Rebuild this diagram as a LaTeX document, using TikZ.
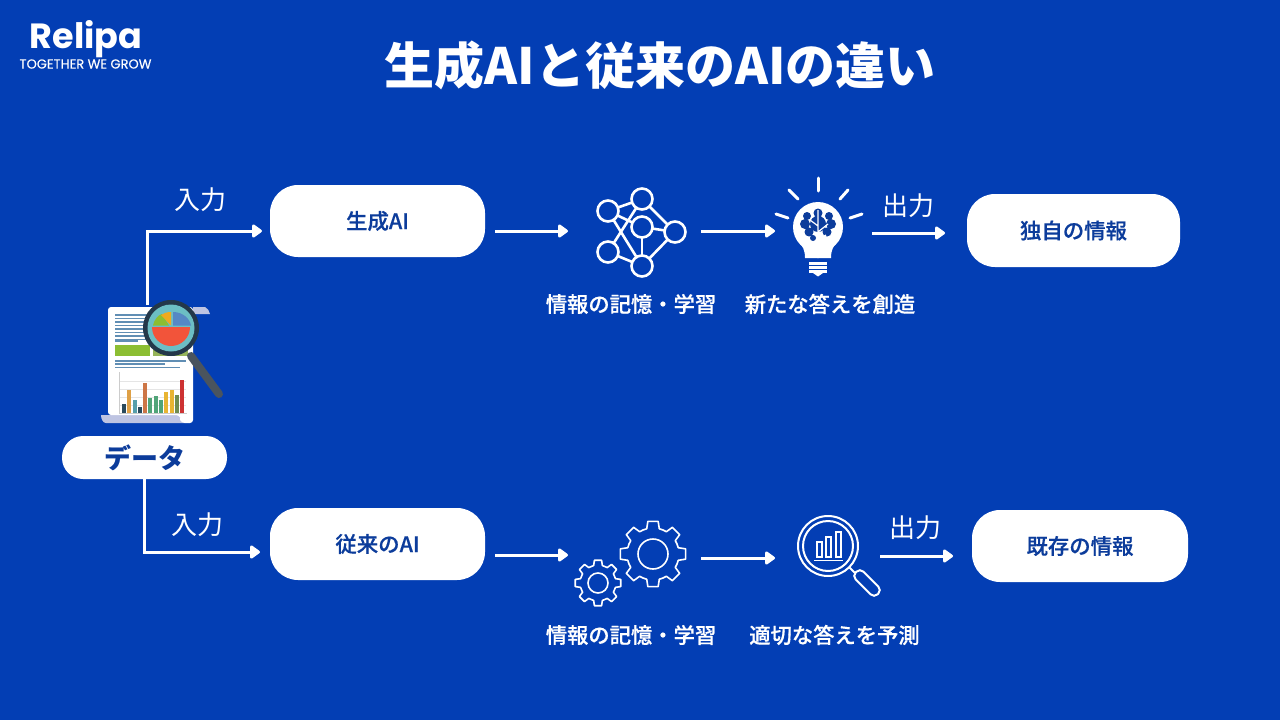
\documentclass[tikz,border=0pt]{standalone}
\usepackage{fontspec}
\setmainfont{Noto Sans CJK JP}
\newfontfamily\midfont[FakeBold=0.5]{Noto Sans CJK JP Medium}
\newfontfamily\logofont{Poppins}
\newfontfamily\sloganfont[FakeBold=0.3]{Poppins}
\usetikzlibrary{arrows.meta,positioning,calc}
\definecolor{bgblue}{RGB}{3,62,180}
\definecolor{N}{RGB}{12,60,155}
\definecolor{S}{RGB}{96,142,180}
\definecolor{C}{RGB}{190,196,226}
\definecolor{D}{RGB}{36,56,74}
\definecolor{H}{RGB}{74,84,94}
\definecolor{T}{RGB}{108,190,196}
\definecolor{P}{RGB}{242,84,58}
\definecolor{Q}{RGB}{86,136,196}
\definecolor{O}{RGB}{240,170,30}
\definecolor{E}{RGB}{140,190,50}
\definecolor{F}{RGB}{150,180,90}
\definecolor{Ba}{RGB}{42,74,92}
\definecolor{Bb}{RGB}{222,160,70}
\definecolor{Bc}{RGB}{86,158,170}
\definecolor{Bd}{RGB}{205,118,70}
\definecolor{Be}{RGB}{80,164,120}
\definecolor{Bf}{RGB}{232,180,50}
\definecolor{Bg}{RGB}{110,140,80}
\definecolor{Bh}{RGB}{205,50,50}
\tikzstyle{pill} = [draw=none,fill=white,text=N,font=\midfont\fontsize{21.4}{22}\selectfont,
minimum width=215pt,minimum height=72pt,rounded corners=28pt,inner sep=0pt]
\tikzstyle{caption} = [text=white,inner sep=0pt,font=\midfont\fontsize{21.3}{22}\selectfont]
\tikzstyle{flowlabel} = [text=white,inner sep=0pt,font=\fontsize{26}{26}\selectfont]
\tikzstyle{arrow} = [-{Triangle[length=11pt,width=15pt,round]},line width=3pt,white]
\tikzstyle{icon} = [white,line width=2.6pt,line cap=round]
\newcommand{\gearicon}[5]{
  \draw[white,line width=1.6pt,line join=round] ($(#1,#2)+(-9:#3)$)
    \foreach \a in {0,45,...,315} {
      -- ($(#1,#2)+(\a+9:#3)$) -- ($(#1,#2)+(\a+14:#4)$)
      arc[start angle=\a+14,end angle=\a+31,radius=#4] -- ($(#1,#2)+(\a+36:#3)$)
    } -- cycle;
  \draw[white,line width=1.6pt] (#1,#2) circle (#5);
}
\begin{document}
\begin{tikzpicture}[x=1pt,y=-1pt]
\fill[bgblue] (0,0) rectangle (1280,720);
% logo and title
\node[text=white,inner sep=0pt] (logo) at (86,39) {\logofont\bfseries\fontsize{35}{35}\selectfont Relipa};
\node[text=white,inner sep=0pt] (slogan) at (85.5,64) {\sloganfont\fontsize{13}{13}\selectfont TOGETHER WE GROW};
\node[text=white,inner sep=0pt,font=\bfseries\fontsize{50}{50}\selectfont] (title) at (660,65) {生成AIと従来のAIの違い};
% boxes
\node[pill] (gen) at (377.5,221) {生成AI};
\node[pill] (old) at (377.5,544) {従来のAI};
\node[pill,minimum width=213pt,minimum height=73pt] (own) at (1073.5,230.5) {独自の情報};
\node[pill,minimum width=216pt] (known) at (1080,546) {既存の情報};
\node[pill,minimum width=165pt,minimum height=43pt,rounded corners=21pt,font=\bfseries\fontsize{27}{27}\selectfont] (data) at (144.5,457.5) {データ};
% connectors
\coordinate (up) at (147,305);
\coordinate (upin) at (262,231);
\coordinate (downin) at (260,552);
\coordinate (A1) at (495,231);
\coordinate (A2) at (568,231);
\coordinate (A3) at (701,231);
\coordinate (A4) at (775,231);
\coordinate (A5) at (872,233);
\coordinate (A6) at (945,233);
\coordinate (B1) at (495,555);
\coordinate (B2) at (568,555);
\coordinate (B3) at (701,558);
\coordinate (B4) at (775,558);
\coordinate (B5) at (880,556);
\coordinate (B6) at (953,556);
\draw[arrow] (up) |- (upin);
\draw[arrow] (data.south -| 144,0) |- (downin);
\foreach \X/\Y in {A1/A2,A3/A4,A5/A6,B1/B2,B3/B4,B5/B6}
  \draw[arrow] (\X) -- (\Y);
\node[flowlabel] (in1) at (200.5,200) {入力};
\node[flowlabel] (in2) at (197.5,525) {入力};
\node[flowlabel] (out1) at (908,206) {出力};
\node[flowlabel] (out2) at (915,528) {出力};
\node[caption] (cap1) at (631,304) {情報の記憶・学習};
\node[caption] (cap2) at (830,304) {新たな答えを創造};
\node[caption] (cap3) at (631,635) {情報の記憶・学習};
\node[caption] (cap4) at (834.5,635) {適切な答えを予測};
% document with magnifier
\fill[C] (193,307) -- (205,307) .. controls (208,308) and (209,311) .. (210,314) -- (193,314) -- cycle;
\fill[C] (101,415) -- (185,415) -- (185,423) -- (106,423) .. controls (103,423) and (101,419) .. (101,415) -- cycle;
\fill[white,rounded corners=3pt] (108,307) -- (193,307) -- (193,423) -- (182,423) .. controls (180,420) and (180,417) .. (179,415) -- (108,415) -- cycle;
\foreach \Y/\E in {315/152,318.5/152,322/152,325.5/152,329/152,332.5/152,336/152,339.5/150,341/138}
  \draw[S,line width=1.1pt] (115,\Y) -- (\E,\Y);
\fill[E] (115,345) rectangle (150,356);
\fill[F] (153,345) rectangle (188,356);
\foreach \Y/\E in {361/186,364/165,367.5/180}
  \draw[S,line width=1.1pt] (115,\Y) -- (\E,\Y);
\foreach \Y in {381,389,397,405}
  \draw[black!10,line width=.6pt] (119,\Y) -- (186,\Y);
\draw[black!20,line width=.6pt] (119,372) -- (119,413) -- (187,413);
\foreach \X/\T/\K in {124/404/Ba,129/390/Bb,134.5/400/Bc,140/407/Ba,145/383/Bd,150/398/Be,155.5/395.5/Be,160.5/399.5/Be,166/392/Bf,171.5/390/Bf,176.5/394.5/Bg,182/380/Bh}
  \fill[\K] (\X-2,\T) rectangle (\X+2,412.7);
\draw[H,line width=8pt,line cap=round] (191,356) -- (219,394);
\fill[D] (171,328) circle (28);
\fill[T] (171,328) circle (23.5);
\fill[P] (171,327) -- (152,327) arc[start angle=180,end angle=0,radius=19] -- cycle;
\fill[Q] (173,325.5) -- (191,325.5) .. controls (190,319) and (183,312) .. (173,312) -- cycle;
\fill[E] (169,325.5) -- (153,325.5) .. controls (154,320) and (158,315) .. (162,314) -- cycle;
\fill[O] (171,325.5) -- (171,312) .. controls (167,312) and (164,313) .. (161,315) -- cycle;
% network icon
\coordinate (ma) at (608,211);
\coordinate (mb) at (642,199);
\coordinate (mc) at (642,227);
\coordinate (md) at (675,232);
\coordinate (me) at (608,252);
\coordinate (mf) at (642,266);
\foreach \X/\Y in {ma/mb,ma/mf,ma/mc,mb/md,mb/me,mc/md,mc/mf,md/mf,me/mf}
  \draw[icon] (\X) -- (\Y);
\foreach \X in {ma,mb,mc,md,me,mf}
  \draw[icon,fill=bgblue] (\X) circle (10.5);
% bulb icon
\foreach \Xa/\Ya/\Xb/\Yb in {818/178/818/191,789/190/798/199,848/190/840/199,776/214/788/218,862/214/850/218}
  \draw[white,line width=3pt,line cap=round] (\Xa,\Ya) -- (\Xb,\Yb);
\fill[white] (818,227) circle (25);
\fill[white] (797,240) .. controls (803,246) and (805,250) .. (805,258) -- (831,258) .. controls (831,250) and (833,246) .. (839,240) -- cycle;
\fill[N] (807,216) circle (4) (818,213) circle (4.5) (829,216) circle (4) (805,224) circle (5) (831,224) circle (5) (809,232) circle (4.5) (827,232) circle (4.5) (818,224) circle (8) (813,238) circle (3);
\draw[white,line width=1.2pt] (818,210) -- (818,258) (818,226) -- (810,220) (818,232) -- (828,224) (818,240) -- (826,235);
\foreach \Y in {263.5,267.5,271.5}
  \draw[white,line width=2.4pt] (809,\Y) -- (827,\Y);
\fill[white] (813,273) -- (823,273) -- (818,276.5) -- cycle;
% gears
\gearicon{653}{554}{33}{26}{15}
\gearicon{598}{583}{23}{18}{10}
% magnifier icon
\draw[white,line width=2pt] (828,546) circle (30) (828,546) circle (25);
\foreach \X/\T in {817/542,826/537,836/532}
  \draw[white,line width=1.3pt] (\X,557) rectangle (\X+5,\T);
\draw[white,line width=1.6pt] (814,560.5) -- (843,560.5);
\draw[white,line width=2pt] (849,567) -- (855,573);
\draw[white,line width=2pt,rounded corners=5pt,rotate around={-45:(867,583)}] (851.5,577.5) rectangle (882.5,588.5);
\end{tikzpicture}
\end{document}
